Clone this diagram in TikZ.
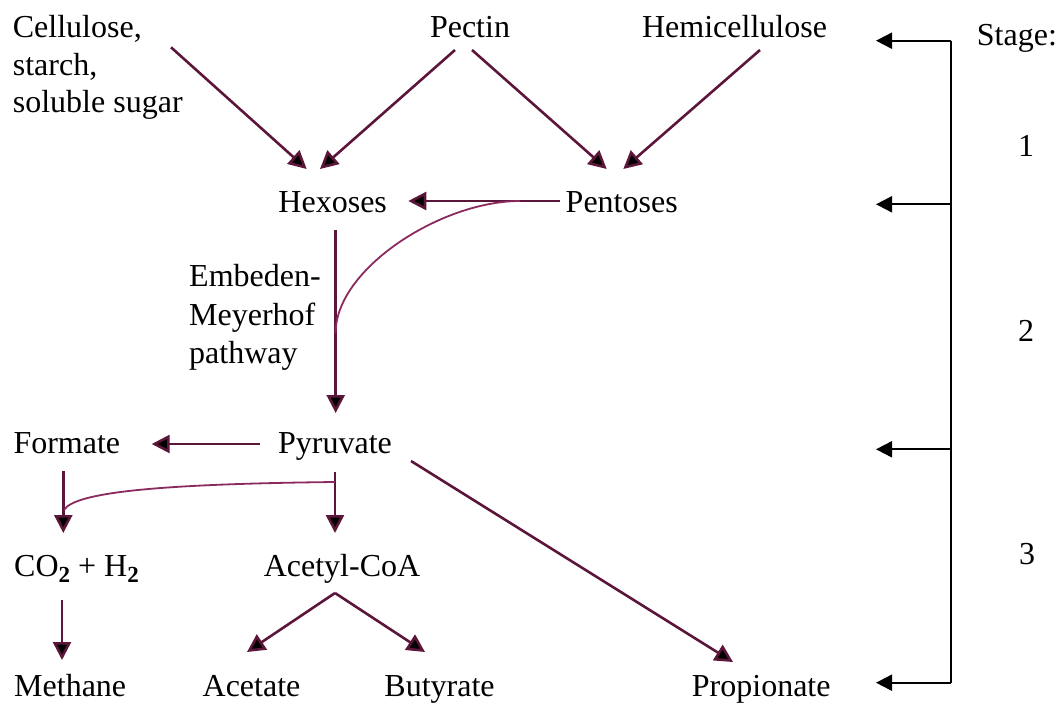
\documentclass[tikz,border=0pt]{standalone}
\usepackage{fontspec}
\setmainfont{Liberation Serif}
\usetikzlibrary{arrows.meta}
\definecolor{pathway}{RGB}{92,22,58}
\definecolor{bypass}{RGB}{138,42,94}
\newcommand{\subtwo}{\raisebox{-6pt}{\fontsize{23}{23}\selectfont\bfseries 2}}
\begin{document}
\begin{tikzpicture}[x=1pt,y=-1pt,
  lbl/.style={inner sep=0pt, font=\fontsize{32}{37.5}\selectfont},
  flow/.style={draw=pathway, line width=2.6pt,
    -{Triangle[length=18pt,width=18pt,fill=black]}},
  side/.style={draw=bypass, line width=1.8pt},
  stagearrow/.style={draw=black, line width=2pt,
    -{Triangle[length=16pt,width=16pt,fill=black]}}]
\useasboundingbox (0,0) rectangle (1062,704);

% substrates
\node[lbl, anchor=base west] (cell) at (12.7,37.7)
  {\begin{tabular}[t]{@{}l@{}}Cellulose,\\starch,\\soluble sugar\end{tabular}};
\node[lbl, anchor=base] (pectin) at (470,37.7) {Pectin};
\node[lbl, anchor=base] (hemi) at (734.5,37.7) {Hemicellulose};

% sugars
\node[lbl, anchor=base] (hex) at (332.7,212) {Hexoses};
\node[lbl, anchor=base] (pent) at (621.7,212) {Pentoses};
\node[lbl, anchor=base west] (emp) at (189,286.7)
  {\begin{tabular}[t]{@{}l@{}}Embeden-\\[0.8pt]Meyerhof\\[0.8pt]pathway\end{tabular}};

% pyruvate level
\node[lbl, anchor=base west] (form) at (13.3,453) {Formate};
\node[lbl, anchor=base] (pyr) at (335,453) {Pyruvate};
\node[lbl, anchor=base west] (gas) at (14,576.7) {CO\subtwo{} + H\subtwo};
\node[lbl, anchor=base] (acoa) at (342,576.7) {Acetyl-CoA};

% end products
\node[lbl, anchor=base west] (meth) at (14,696.7) {Methane};
\node[lbl, anchor=base] (acet) at (251.5,696.7) {Acetate};
\node[lbl, anchor=base] (buty) at (439.5,696.7) {Butyrate};
\node[lbl, anchor=base west] (prop) at (691.7,696.7) {Propionate};

% stage labels
\node[lbl, anchor=base west] (stage) at (976.7,45) {Stage:};
\node[lbl, anchor=base] (s1) at (1026,156.7) {1};
\node[lbl, anchor=base] (s2) at (1026,341) {2};
\node[lbl, anchor=base] (s3) at (1027,564) {3};

% connector end points
\coordinate (cell-o) at (171,47.3);
\coordinate (pec-o1) at (455,50);
\coordinate (pec-o2) at (472,50);
\coordinate (hemi-o) at (760,50);
\coordinate (hex-i1) at (306.7,169);
\coordinate (hex-i2) at (320,169);
\coordinate (pent-i1) at (606.7,169);
\coordinate (pent-i2) at (623.3,169);
\coordinate (pent-o) at (560,201);
\coordinate (hex-i3) at (408.3,201);
\coordinate (hex-o) at (335.7,230);
\coordinate (pyr-i) at (335.7,413);
\coordinate (pyr-o1) at (260,444);
\coordinate (form-i) at (151.7,444);
\coordinate (form-o) at (63.3,471);
\coordinate (gas-i) at (63.3,533);
\coordinate (pyr-o2) at (335,472);
\coordinate (acoa-i) at (335,533);
\coordinate (acoa-o) at (335,593);
\coordinate (acet-i) at (247,652);
\coordinate (buty-i) at (425,652);
\coordinate (pyr-o3) at (411,461);
\coordinate (prop-i) at (733,662);
\coordinate (gas-o) at (62,600);
\coordinate (meth-i) at (62,660);
\coordinate (fork1) at (520,201);
\coordinate (join1) at (335.7,333);
\coordinate (fork2) at (335,482);
\coordinate (join2) at (64,510);

% main pathway
\draw[flow] (cell-o) -- (hex-i1);
\draw[flow] (pec-o1) -- (hex-i2);
\draw[flow] (pec-o2) -- (pent-i1);
\draw[flow] (hemi-o) -- (pent-i2);
\draw[flow] (pent-o) -- (hex-i3);
\draw[flow] (hex-o) -- (pyr-i);
\draw[flow] (pyr-o1) -- (form-i);
\draw[flow] (form-o) -- (gas-i);
\draw[flow] (pyr-o2) -- (acoa-i);
\draw[flow] (acoa-o) -- (acet-i);
\draw[flow] (acoa-o) -- (buty-i);
\draw[flow] (pyr-o3) -- (prop-i);
\draw[flow] (gas-o) -- (meth-i);

% side routes
\draw[side] (fork1) .. controls (440,201) and (335,270) .. (join1);
\draw[side] (fork2) .. controls (160,484) and (75,492) .. (join2);

% stage bracket
\coordinate (b1) at (950.7,40.7);
\coordinate (b2) at (950.7,204.3);
\coordinate (b3) at (950.7,449.3);
\coordinate (b4) at (950.7,682.7);
\draw[line width=2pt] (b1) -- (b4);
\draw[stagearrow] (b1) -- (876,40.7);
\draw[stagearrow] (b2) -- (876,204.3);
\draw[stagearrow] (b3) -- (876,449.3);
\draw[stagearrow] (b4) -- (876,682.7);
\end{tikzpicture}
\end{document}
